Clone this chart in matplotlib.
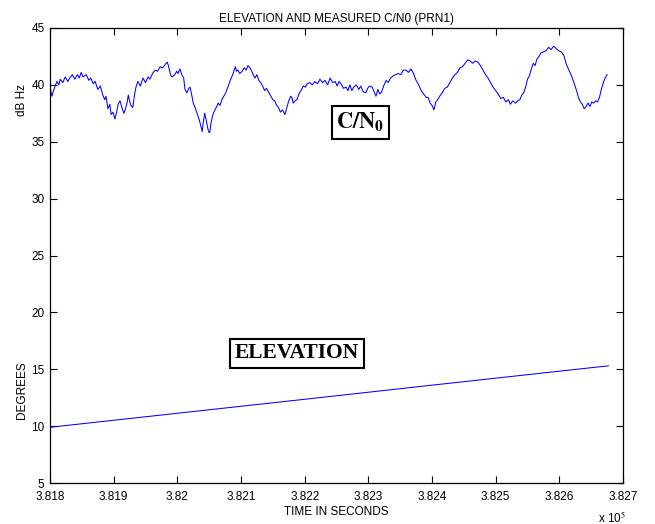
"""Elevation and measured C/N0 for PRN1 versus time (MATLAB-style figure)."""
import matplotlib
matplotlib.use("Agg")
import matplotlib.pyplot as plt

# C/N0 samples: time in seconds and dB-Hz
CN0_TIME = [
    381800, 381803, 381805, 381808, 381811, 381814, 381816, 381820, 381824, 381828,
    381831, 381835, 381839, 381843, 381846, 381849, 381852, 381857, 381861, 381864,
    381868, 381871, 381875, 381879, 381883, 381886, 381888, 381891, 381894, 381896,
    381899, 381902, 381905, 381907, 381910, 381913, 381916, 381918, 381921, 381923,
    381925, 381927, 381930, 381933, 381935, 381938, 381942, 381946, 381950, 381954,
    381957, 381961, 381965, 381969, 381973, 381977, 381981, 381984, 381986, 381988,
    381990, 381992, 381996, 381999, 382001, 382004, 382007, 382010, 382012, 382015,
    382018, 382020, 382023, 382025, 382028, 382031, 382034, 382036, 382039, 382041,
    382043, 382045, 382047, 382049, 382051, 382053, 382056, 382059, 382062, 382064,
    382067, 382070, 382073, 382076, 382080, 382083, 382087, 382091, 382093, 382095,
    382098, 382102, 382105, 382108, 382111, 382114, 382117, 382120, 382122, 382125,
    382128, 382131, 382134, 382137, 382140, 382144, 382147, 382150, 382153, 382156,
    382159, 382162, 382165, 382169, 382172, 382175, 382178, 382180, 382182, 382185,
    382188, 382191, 382194, 382198, 382201, 382204, 382208, 382212, 382216, 382220,
    382224, 382228, 382232, 382236, 382240, 382244, 382248, 382251, 382254, 382257,
    382261, 382265, 382268, 382271, 382274, 382277, 382281, 382285, 382288, 382292,
    382296, 382299, 382302, 382306, 382309, 382312, 382315, 382318, 382321, 382324,
    382328, 382331, 382335, 382339, 382343, 382347, 382351, 382355, 382359, 382363,
    382367, 382371, 382375, 382379, 382383, 382387, 382391, 382394, 382397, 382400,
    382403, 382406, 382409, 382412, 382416, 382420, 382424, 382428, 382432, 382436,
    382440, 382444, 382448, 382452, 382456, 382460, 382464, 382468, 382472, 382476,
    382480, 382484, 382488, 382492, 382496, 382500, 382504, 382508, 382512, 382516,
    382520, 382523, 382527, 382531, 382535, 382538, 382541, 382544, 382547, 382550,
    382553, 382556, 382559, 382562, 382565, 382568, 382571, 382575, 382579, 382583,
    382587, 382591, 382595, 382599, 382603, 382607, 382611, 382615, 382619, 382623,
    382627, 382630, 382633, 382636, 382639, 382642, 382645, 382648, 382651, 382654,
    382657, 382660, 382663, 382666, 382669, 382672, 382675,
]
CN0_DBHZ = [
    39.8, 39.0, 39.4, 39.9, 40.3, 40.0, 40.5, 40.2, 40.7, 40.3,
    40.6, 40.9, 40.5, 40.9, 40.6, 41.1, 40.7, 40.9, 40.4, 40.6,
    40.1, 40.3, 39.6, 39.9, 39.1, 38.7, 39.0, 37.9, 38.3, 37.4,
    37.6, 37.0, 37.7, 38.3, 38.6, 38.0, 37.5, 37.8, 38.4, 39.1,
    38.6, 38.2, 38.0, 39.2, 39.8, 40.3, 39.9, 40.6, 40.2, 40.7,
    40.5, 41.0, 41.3, 41.2, 41.6, 41.5, 41.8, 42.0, 41.7, 41.2,
    40.8, 40.7, 40.9, 41.2, 41.0, 41.4, 40.9, 40.6, 39.6, 39.3,
    39.7, 39.8, 39.0, 38.4, 38.0, 37.5, 37.0, 36.6, 35.9, 36.8,
    37.5, 37.0, 36.4, 35.9, 35.8, 36.7, 37.4, 37.8, 38.1, 38.4,
    38.2, 38.7, 39.0, 39.3, 39.9, 40.4, 40.9, 41.6, 41.2, 41.3,
    41.0, 41.2, 41.5, 41.3, 41.7, 41.5, 41.2, 40.8, 40.6, 40.9,
    40.4, 40.2, 39.9, 39.5, 39.7, 39.3, 39.0, 38.7, 38.6, 38.2,
    38.0, 37.6, 37.8, 37.4, 38.0, 38.6, 39.0, 38.9, 38.4, 38.6,
    38.7, 39.2, 39.5, 39.9, 39.8, 40.1, 40.2, 40.0, 40.3, 40.1,
    40.5, 40.2, 40.4, 40.0, 40.6, 40.2, 40.3, 39.9, 40.3, 40.1,
    39.7, 39.8, 39.5, 40.0, 39.5, 39.8, 40.0, 39.6, 39.9, 39.4,
    39.3, 39.7, 39.9, 39.8, 39.4, 39.0, 39.6, 39.2, 39.4, 39.9,
    40.4, 40.2, 40.6, 40.8, 40.9, 41.0, 40.9, 41.3, 41.3, 41.1,
    41.4, 41.0, 40.4, 40.0, 39.5, 39.2, 38.9, 38.9, 38.4, 38.2,
    37.8, 38.5, 38.7, 39.0, 39.3, 39.7, 39.8, 40.2, 40.6, 40.9,
    41.1, 41.5, 41.6, 41.9, 42.2, 42.1, 41.9, 42.1, 42.0, 41.7,
    41.3, 40.9, 40.6, 40.2, 39.8, 39.5, 39.2, 38.8, 38.9, 38.5,
    38.7, 38.3, 38.6, 38.4, 38.6, 38.7, 39.1, 39.3, 39.8, 40.5,
    40.8, 41.4, 41.9, 41.7, 42.3, 42.5, 42.8, 42.9, 43.0, 43.3,
    43.1, 43.4, 43.2, 43.0, 42.9, 42.6, 41.8, 41.3, 40.8, 40.2,
    39.5, 38.9, 38.5, 38.3, 37.9, 38.1, 38.4, 38.1, 38.5, 38.4,
    38.6, 38.5, 38.9, 39.6, 40.2, 40.6, 40.9,
]

# Satellite elevation in degrees
ELEV_TIME = [381800, 382000, 382200, 382400, 382600, 382677]
ELEV_DEG = [9.9, 11.13, 12.36, 13.6, 14.83, 15.3]

X_TICKS = [381800, 381900, 382000, 382100, 382200, 382300, 382400, 382500, 382600, 382700]
X_TICK_LABELS = ["3.818", "3.819", "3.82", "3.821", "3.822",
                 "3.823", "3.824", "3.825", "3.826", "3.827"]
Y_TICKS = [5, 10, 15, 20, 25, 30, 35, 40, 45]

plt.rcParams["font.family"] = ["Liberation Sans", "DejaVu Sans"]
plt.rcParams["mathtext.fontset"] = "stix"

fig = plt.figure(figsize=(6.55, 5.24), dpi=100)
ax = fig.add_axes([50 / 655, 41 / 524, 573 / 655, 455 / 524])

ax.plot(CN0_TIME, CN0_DBHZ, color="#0000ff", linewidth=0.75)
ax.plot(ELEV_TIME, ELEV_DEG, color="#0000ff", linewidth=0.75)

ax.set_xlim(381800, 382700)
ax.set_ylim(5, 45)
ax.set_xticks(X_TICKS)
ax.set_xticklabels(X_TICK_LABELS)
ax.set_yticks(Y_TICKS)
ax.tick_params(direction="in", top=True, right=True, length=5,
               width=0.8, labelsize=8.5)
ax.tick_params(axis="x", pad=6)
ax.tick_params(axis="y", pad=4)
for spine in ax.spines.values():
    spine.set_linewidth(0.9)

ax.set_title("ELEVATION AND MEASURED C/N0 (PRN1)", fontsize=8.5, pad=4)
ax.set_xlabel("TIME IN SECONDS", fontsize=8.5, labelpad=2)
fig.text(598 / 655, 1 - 518 / 524, r"x 10$^5$", fontsize=8.5,
         ha="left", va="center")
fig.text(22 / 655, 1 - 100 / 524, "dB Hz", rotation=90, fontsize=8.5,
         ha="center", va="center")
fig.text(22 / 655, 1 - 390 / 524, "DEGREES", rotation=90, fontsize=8.5,
         ha="center", va="center")

box = dict(boxstyle="square,pad=0.2", facecolor="white",
           edgecolor="black", linewidth=1.5)
ax.text(382287, 36.7, r"$\mathbf{C/N_0}$", fontsize=16, ha="center",
        va="center", bbox=box)
ax.text(382188, 16.4, "ELEVATION", fontsize=15.5, fontweight="bold",
        family="Liberation Serif", ha="center", va="center",
        bbox=dict(box, boxstyle="square,pad=0.22"))

fig.savefig("out.png", dpi=100)
